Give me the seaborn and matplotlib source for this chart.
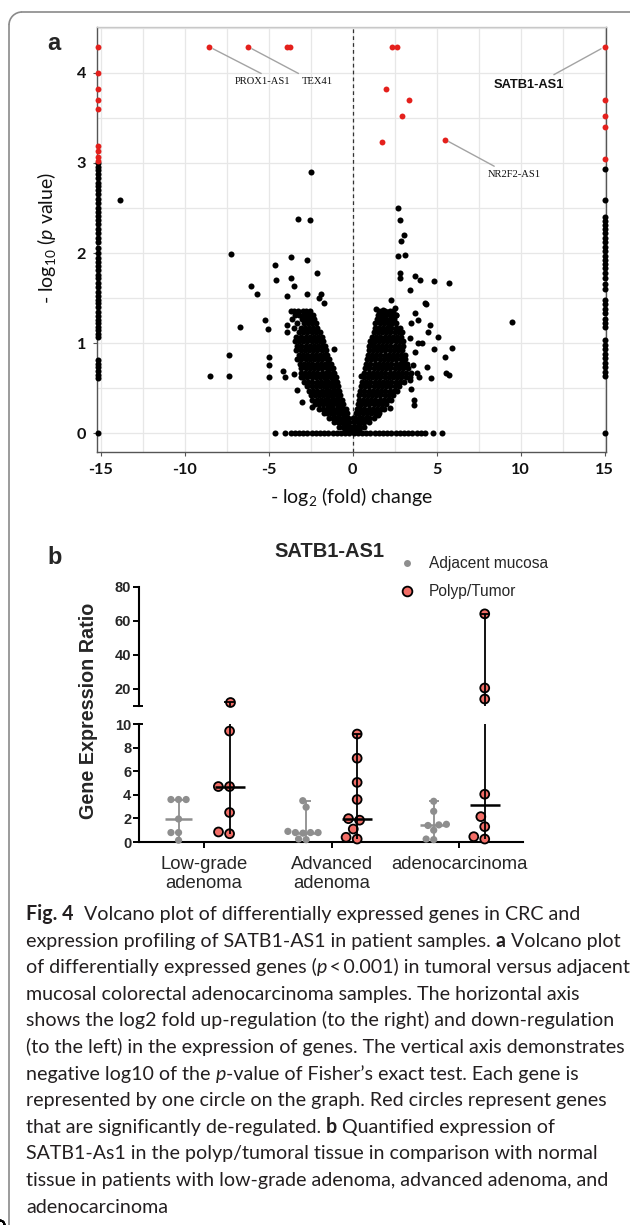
import numpy as np
import pandas as pd
import matplotlib
matplotlib.use("Agg")
import matplotlib.pyplot as plt
import seaborn as sns
from matplotlib import font_manager
from matplotlib.font_manager import FontProperties
from matplotlib.patches import Arc
from matplotlib.lines import Line2D
from matplotlib.ticker import MultipleLocator

# ======================= DATA : panel a (volcano) =======================
# significant (red) genes
sig_left_edge_nlp = [4.29, 4.00, 3.82, 3.70, 3.60, 3.19, 3.13, 3.07, 3.02]   # lfc capped at -15
sig_right_edge_nlp = [4.29, 3.70, 3.52, 3.40, 3.04]                            # lfc capped at +15
sig_mid_lfc = [-8.54, -6.22, -3.88, -3.71, 2.34, 2.65, 1.98, 3.34, 2.93, 1.74, 5.49]
sig_mid_nlp = [4.29, 4.29, 4.29, 4.29, 4.29, 4.29, 3.82, 3.70, 3.52, 3.23, 3.26]
LEFT_CAP, RIGHT_CAP = -15.15, 15.0

# labelled genes
label_genes = ["PROX1-AS1", "TEX41", "SATB1-AS1", "NR2F2-AS1"]
label_lfc = [-8.54, -6.22, 15.0, 5.49]
label_nlp = [4.29, 4.29, 4.29, 3.26]

# non-significant (black) genes
edge_left_nlp = [3.0, 2.96, 2.92, 2.88, 2.83, 2.78, 2.74, 2.7, 2.65, 2.6, 2.55, 2.5, 2.45,
                 2.41, 2.37, 2.32, 2.27, 2.22, 2.17, 2.12, 2.06, 2.0, 1.95, 1.9, 1.86, 1.81,
                 1.76, 1.72, 1.67, 1.62, 1.57, 1.52, 1.48, 1.44, 1.4, 1.35, 1.3, 1.26, 1.22,
                 1.18, 1.14, 1.1, 1.07, 0.81, 0.77, 0.73, 0.69, 0.65, 0.61, 0.0]
edge_right_nlp = [2.93, 2.59, 2.40, 2.35, 2.31, 2.27, 2.22, 2.17, 2.12, 2.07, 2.02, 1.97,
                  1.92, 1.88, 1.83, 1.78, 1.72, 1.66, 1.6, 1.48, 1.43, 1.38, 1.33, 1.27,
                  1.22, 1.18, 1.03, 0.98, 0.93, 0.88, 0.83, 0.78, 0.73, 0.68, 0.63, 0.0]
scatter_lfc = [-13.85, -2.49, -3.28, -2.57, -7.26, -3.69, -2.74, -4.64, -2.1, -4.58, -3.65,
               -3.49, -6.07, -5.67, -3.89, -2.74, -1.87, -2.0, -1.73, -5.24, -5.04, -6.71,
               -3.92, -3.88, -7.35, -4.96, -5.0, -4.96, -8.5, -7.38, -4.17, -4.03, -3.5,
               -3.1, -3.3, -3.0, -2.4, -1.11,
               2.7, 2.82, 3.05, 2.9, 2.7, 3.1, 2.8, 2.8, 3.69, 4.03, 4.82, 5.73, 3.39, 2.3,
               4.29, 4.38, 1.41, 1.8, 2.1, 2.5, 2.56, 3.73, 3.89, 3.49, 4.62, 4.48, 5.08,
               1.45, 2.2, 1.09, 3.4, 3.9, 4.1, 4.82, 5.89, 5.48, 3.69, 3.0, 3.0, 3.6, 4.4,
               5.58, 5.73, 3.95, 4.68, 3.39, 3.49, 3.63, 3.63, 0.48, 1.5, 2.2, 9.51]
scatter_nlp = [2.59, 2.90, 2.38, 2.37, 1.99, 1.96, 1.92, 1.87, 1.78, 1.70, 1.72,
               1.63, 1.63, 1.55, 1.52, 1.54, 1.55, 1.50, 1.45, 1.26, 1.16, 1.18,
               1.20, 1.12, 0.87, 0.84, 0.76, 0.62, 0.63, 0.63, 0.69, 0.62, 0.66,
               0.62, 0.48, 0.35, 0.29, 0.93,
               2.50, 2.37, 2.20, 2.13, 1.97, 1.98, 1.78, 1.72, 1.74, 1.70, 1.69, 1.67, 1.59, 1.48,
               1.44, 1.43, 1.38, 1.37, 1.34, 1.39, 1.31, 1.33, 1.26, 1.22, 1.20, 1.12, 1.07,
               1.16, 1.18, 1.00, 1.06, 1.00, 1.00, 0.93, 0.94, 0.84, 0.90, 0.85, 0.80, 0.76, 0.73,
               0.67, 0.64, 0.62, 0.61, 0.59, 0.49, 0.37, 0.31, 0.63, 0.20, 0.28, 1.23]
left_arm_rows = {
    1.36: [-3.7, -3.5, -3.25, -2.95, -2.75, -2.55],
    1.31: [-3.45, -3.2, -2.9, -2.6, -2.35],
    1.27: [-3.6, -3.0, -2.75, -2.5, -2.3],
    1.22: [-3.3, -2.9, -2.65, -2.4, -2.2],
    1.17: [-3.5, -3.1, -2.85, -2.6, -2.35, -2.1],
    1.12: [-3.2, -2.95, -2.7, -2.45, -2.2, -1.95],
    1.07: [-3.4, -3.1, -2.8, -2.55, -2.3, -2.05, -1.85],
    1.02: [-3.45, -3.2, -2.95, -2.7, -2.45, -2.2, -1.95, -1.75],
    0.97: [-3.3, -3.05, -2.8, -2.55, -2.3, -2.05, -1.8, -1.65],
    0.92: [-3.35, -3.1, -2.85, -2.6, -2.35, -2.1, -1.85, -1.6],
    0.87: [-3.2, -2.95, -2.7, -2.45, -2.2, -1.95, -1.7, -1.5],
    0.82: [-3.3, -3.05, -2.8, -2.55, -2.3, -2.05, -1.8, -1.55, -1.4],
    0.77: [-3.15, -2.9, -2.65, -2.4, -2.15, -1.9, -1.65, -1.45, -1.3],
    0.72: [-3.05, -2.8, -2.55, -2.3, -2.05, -1.8, -1.55, -1.35, -1.2],
    0.67: [-3.1, -2.85, -2.6, -2.35, -2.1, -1.85, -1.6, -1.4, -1.2, -1.1],
    0.62: [-2.95, -2.7, -2.45, -2.2, -1.95, -1.7, -1.5, -1.3, -1.1, -1.0],
    0.57: [-2.9, -2.65, -2.4, -2.15, -1.9, -1.65, -1.45, -1.25, -1.05, -0.95],
    0.52: [-2.7, -2.45, -2.2, -1.95, -1.7, -1.5, -1.3, -1.1, -0.9],
    0.47: [-2.6, -2.35, -2.1, -1.85, -1.6, -1.4, -1.2, -1.0, -0.8],
    0.42: [-2.5, -2.25, -2.0, -1.75, -1.55, -1.35, -1.15, -0.95, -0.75],
    0.37: [-2.4, -2.15, -1.9, -1.65, -1.45, -1.25, -1.05, -0.85, -0.65],
    0.32: [-2.25, -2.0, -1.75, -1.55, -1.35, -1.15, -0.95, -0.75, -0.55],
    0.27: [-2.0, -1.75, -1.55, -1.35, -1.15, -0.95, -0.75, -0.55, -0.4],
    0.22: [-1.7, -1.5, -1.3, -1.1, -0.9, -0.7, -0.5, -0.35],
    0.17: [-1.4, -1.2, -1.0, -0.8, -0.6, -0.45, -0.3],
    0.12: [-1.1, -0.9, -0.7, -0.5, -0.35, -0.2],
    0.07: [-0.8, -0.6, -0.4, -0.25, -0.1],
    0.03: [-0.45, -0.25, -0.1],
}
right_arm_rows = {
    1.36: [1.55, 1.9, 2.2, 2.4],
    1.31: [1.5, 1.75, 2.0, 2.3, 2.55],
    1.27: [1.45, 1.7, 1.95, 2.2, 2.45],
    1.22: [1.35, 1.6, 1.85, 2.1, 2.35, 2.6],
    1.17: [1.3, 1.55, 1.8, 2.05, 2.3, 2.55, 2.8],
    1.12: [1.25, 1.5, 1.75, 2.0, 2.25, 2.5, 2.75, 2.95],
    1.07: [1.15, 1.4, 1.65, 1.9, 2.15, 2.4, 2.65, 2.9],
    1.02: [1.05, 1.3, 1.55, 1.8, 2.05, 2.3, 2.55, 2.8, 3.0],
    0.97: [1.0, 1.25, 1.5, 1.75, 2.0, 2.25, 2.5, 2.75, 3.0],
    0.92: [0.95, 1.2, 1.45, 1.7, 1.95, 2.2, 2.45, 2.7, 2.95],
    0.87: [0.9, 1.15, 1.4, 1.65, 1.9, 2.15, 2.4, 2.65, 2.9, 3.1],
    0.82: [0.85, 1.1, 1.35, 1.6, 1.85, 2.1, 2.35, 2.6, 2.85, 3.1],
    0.77: [0.8, 1.05, 1.3, 1.55, 1.8, 2.05, 2.3, 2.55, 2.8, 3.05, 3.25],
    0.72: [0.75, 1.0, 1.25, 1.5, 1.75, 2.0, 2.25, 2.5, 2.75, 3.0, 3.3],
    0.67: [0.7, 0.95, 1.2, 1.45, 1.7, 1.95, 2.2, 2.45, 2.7, 2.95, 3.2, 3.5, 3.8],
    0.62: [0.65, 0.9, 1.15, 1.4, 1.65, 1.9, 2.15, 2.4, 2.65, 2.9, 3.15, 3.4],
    0.57: [0.55, 0.8, 1.05, 1.3, 1.55, 1.8, 2.05, 2.3, 2.55, 2.8, 3.05],
    0.52: [0.5, 0.75, 1.0, 1.25, 1.5, 1.75, 2.0, 2.25, 2.5, 2.75],
    0.47: [0.45, 0.7, 0.95, 1.2, 1.45, 1.7, 1.95, 2.2, 2.45, 2.65],
    0.42: [0.4, 0.65, 0.9, 1.15, 1.4, 1.65, 1.9, 2.15, 2.4],
    0.37: [0.35, 0.6, 0.85, 1.1, 1.35, 1.6, 1.85, 2.1, 2.3],
    0.32: [0.3, 0.5, 0.75, 1.0, 1.25, 1.5, 1.75, 2.0],
    0.27: [0.25, 0.45, 0.7, 0.95, 1.2, 1.45, 1.7, 1.85],
    0.22: [0.2, 0.4, 0.6, 0.85, 1.1, 1.35, 1.55],
    0.17: [0.0, 0.15, 0.35, 0.55, 0.8, 1.0, 1.25],
    0.12: [0.1, 0.3, 0.5, 0.7, 0.95],
    0.07: [0.05, 0.25, 0.45, 0.65],
    0.03: [0.0, 0.15, 0.35],
}
zero_row_lfc = [-4.64, -4.0, -3.7, -3.45, -3.2, -2.95, -2.7, -2.45, -2.2, -1.95, -1.7,
                -1.45, -1.2, -0.95, -0.7, -0.45, -0.2, 0.05, 0.3, 0.55, 0.8, 1.05, 1.3,
                1.55, 1.8, 2.05, 2.3, 2.55, 2.8, 3.05, 3.3, 3.55, 3.8, 4.05, 4.3, 4.8, 5.3]

# ======================= DATA : panel b =======================
groups = ["Low-grade\nadenoma", "Advanced\nadenoma", "adenocarcinoma"]
tissues = ["Adjacent mucosa", "Polyp/Tumor"]
adjacent_low = [3.6, 3.6, 3.6, 1.95, 0.8, 0.8, 0.15]
polyp_low = [12.3, 9.4, 4.7, 4.7, 2.5, 0.7, 0.85]
adjacent_adv = [3.5, 2.95, 0.9, 0.8, 0.8, 0.8, 0.75, 0.25, 0.2]
polyp_adv = [9.15, 7.1, 5.05, 3.6, 1.98, 1.85, 1.1, 0.25, 0.4]
adjacent_ac = [3.45, 2.6, 1.5, 1.45, 1.4, 1.0, 0.25, 0.2]
polyp_ac = [64.2, 20.6, 14.1, 4.05, 2.15, 1.3, 0.25, 0.45]
break_low, break_high = 10, 80

# ======================= fonts / style =======================
sns.set_theme(style="white")
avail = {f.name for f in font_manager.fontManager.ttflist}
def pick(*names):
    for n in names:
        if n in avail:
            return n
    return "DejaVu Sans"
SANS = pick("Liberation Sans", "Arimo", "DejaVu Sans")
LATO = pick("Lato", "Open Sans", "DejaVu Sans")
SERIF = pick("Liberation Serif", "DejaVu Serif")
CAP = pick("Lato", "Open Sans", "Noto Sans")
plt.rcParams["font.family"] = [SANS, "DejaVu Sans"]
plt.rcParams["axes.unicode_minus"] = False
plt.rcParams["mathtext.fontset"] = "custom"
plt.rcParams["mathtext.rm"] = LATO
plt.rcParams["mathtext.it"] = LATO + ":italic"
plt.rcParams["mathtext.bf"] = LATO + ":bold"

W, H = 630, 1225
fig = plt.figure(figsize=(W / 100, H / 100), dpi=100)
fig.patch.set_facecolor("white")

def frac(x0, y0, x1, y1):
    return [x0 / W, 1 - y1 / H, (x1 - x0) / W, (y1 - y0) / H]

# outer frame: left side, rounded top-left corner, top side (rest runs off the canvas)
FR_X, FR_Y, FR_R = 9, 12, 13
frame_kw = dict(color="#8a8a8a", lw=1.2, transform=fig.transFigure)
fig.add_artist(Line2D([FR_X / W, FR_X / W], [1 - (FR_Y + FR_R) / H, -0.01], **frame_kw))
fig.add_artist(Line2D([(FR_X + FR_R) / W, 1.01], [1 - FR_Y / H, 1 - FR_Y / H], **frame_kw))
fig.add_artist(Arc(((FR_X + FR_R) / W, 1 - (FR_Y + FR_R) / H), 2 * FR_R / W, 2 * FR_R / H,
                   theta1=90, theta2=180, ec="#8a8a8a", lw=1.2, transform=fig.transFigure))

# ======================= panel a =======================
ax = fig.add_axes(frac(97, 27, 606, 452))
blk_lfc, blk_nlp = [], []
for y, xs in list(left_arm_rows.items()) + list(right_arm_rows.items()):
    blk_lfc += xs
    blk_nlp += [y] * len(xs)
blk_lfc += zero_row_lfc + scatter_lfc + [LEFT_CAP] * len(edge_left_nlp) + [RIGHT_CAP] * len(edge_right_nlp)
blk_nlp += [0.0] * len(zero_row_lfc) + scatter_nlp + edge_left_nlp + edge_right_nlp
df_blk = pd.DataFrame({"lfc": blk_lfc, "nlp": blk_nlp})
df_sig = pd.DataFrame({
    "lfc": [LEFT_CAP] * len(sig_left_edge_nlp) + [RIGHT_CAP] * len(sig_right_edge_nlp) + sig_mid_lfc,
    "nlp": sig_left_edge_nlp + sig_right_edge_nlp + sig_mid_nlp})

sns.scatterplot(data=df_blk, x="lfc", y="nlp", color="black", s=19, linewidth=0, ax=ax,
                legend=False, zorder=3)
sns.scatterplot(data=df_sig, x="lfc", y="nlp", color="#e4201c", s=18, linewidth=0, ax=ax,
                legend=False, zorder=3)
for c in ax.collections:
    c.set_clip_on(False)

ax.set_xlim(-15.22, 15.08)
ax.set_ylim(-0.21, 4.51)
ax.set_xticks([-15, -10, -5, 0, 5, 10, 15])
ax.set_yticks([0, 1, 2, 3, 4])
ax.xaxis.set_minor_locator(MultipleLocator(2.5))
ax.yaxis.set_minor_locator(MultipleLocator(0.5))
ax.grid(which="both", color="#e7e7e7", lw=0.9)
ax.set_axisbelow(True)
ax.tick_params(which="minor", length=0)
ax.tick_params(axis="x", which="major", length=3, width=0.8, color="#555555", pad=5,
               labelsize=11.7, bottom=True)
ax.tick_params(axis="y", which="major", length=3, width=0.8, color="#555555", pad=5,
               labelsize=11.7, left=True)
for lbl in ax.get_xticklabels() + ax.get_yticklabels():
    lbl.set_fontfamily(LATO)
    lbl.set_fontweight("bold")
    lbl.set_color("#111111")
for side in ["left", "bottom", "right"]:
    ax.spines[side].set_color("#555555")
    ax.spines[side].set_linewidth(1.0)
ax.spines["top"].set_color("#c8c8c8")
ax.spines["top"].set_linewidth(1.0)
ax.axvline(0, color="#333333", ls=(0, (3, 2.5)), lw=0.9, zorder=2)

ax.set_xlabel("- log$_2$ (fold) change", fontfamily=LATO, fontsize=14, color="#111111")
ax.xaxis.set_label_coords(0.5, -(497 - 452) / 425)
ax.xaxis.label.set_va("center")
ax.set_ylabel("- log$_{10}$ ($p$ value)", fontfamily=LATO, fontsize=14, color="#111111")
ax.yaxis.set_label_coords((47 - 97) / 509, (452 - 238) / 425)
ax.yaxis.label.set_va("center")

label_layout = {
    "PROX1-AS1": ((-5.39, 3.90), (0.62, 1.0), dict(fontfamily=SERIF, fontsize=7.6)),
    "TEX41": ((-2.08, 3.90), (0.12, 1.0), dict(fontfamily=SERIF, fontsize=7.6)),
    "SATB1-AS1": ((10.46, 3.87), (0.76, 1.0), dict(fontfamily=SANS, fontsize=9.3, fontweight="bold")),
    "NR2F2-AS1": ((9.65, 2.87), (0.25, 1.0), dict(fontfamily=SERIF, fontsize=7.6)),
}
for name, lx, ly in zip(label_genes, label_lfc, label_nlp):
    (tx, ty), rp, kw = label_layout[name]
    ax.annotate(name, xy=(lx, ly), xytext=(tx, ty), ha="center", va="center", color="#111111",
                annotation_clip=False,
                arrowprops=dict(arrowstyle="-", color="#a3a3a3", lw=1.0, shrinkA=1, shrinkB=3,
                                relpos=rp), **kw)

fig.text(54 / W, 1 - 44 / H, "a", fontsize=17, fontweight="bold", ha="center", va="center",
         family=SANS)

# ======================= panel b =======================
rows = []
for g, a, p in zip(groups, [adjacent_low, adjacent_adv, adjacent_ac],
                   [polyp_low, polyp_adv, polyp_ac]):
    rows += [(g, tissues[0], v) for v in a]
    rows += [(g, tissues[1], v) for v in p]
df_b = pd.DataFrame(rows, columns=["group", "tissue", "ratio"])

RED = "#f26d66"
GREY = "#8e8e8e"
pal = {tissues[0]: GREY, tissues[1]: RED}
styles = {tissues[0]: dict(size=5.2, linewidth=0),
          tissues[1]: dict(size=6.4, linewidth=1.3, edgecolor="black")}

ax_t = fig.add_axes(frac(139, 587, 523, 706))
ax_b = fig.add_axes(frac(139, 724, 523, 842))

def draw_swarm(a, sub):
    for t in tissues:
        d = sub[sub.tissue == t]
        if d.empty:
            continue
        sns.swarmplot(data=d, x="group", y="ratio", hue="tissue", order=groups,
                      hue_order=tissues, palette=pal, dodge=True, ax=a, legend=False,
                      **styles[t])
    for c in a.collections:
        c.set_clip_on(False)

draw_swarm(ax_b, df_b[df_b.ratio <= break_low])
draw_swarm(ax_t, df_b[df_b.ratio > break_low])

offsets = {tissues[0]: -0.2, tissues[1]: 0.2}
line_col = {tissues[0]: GREY, tissues[1]: "black"}
med_hw = {tissues[0]: 0.105, tissues[1]: 0.118}
for a in (ax_t, ax_b):
    for i, g in enumerate(groups):
        for t in tissues:
            v = df_b[(df_b.group == g) & (df_b.tissue == t)].ratio
            xc = i + offsets[t]
            a.vlines(xc, v.min(), v.max(), color=line_col[t], lw=1.3, zorder=6)
            a.hlines(v.max(), xc - 0.04, xc + 0.04, color=line_col[t], lw=1.3, zorder=6)
            a.hlines(v.median(), xc - med_hw[t], xc + med_hw[t], color=line_col[t],
                     lw=1.8, zorder=7)

for a in (ax_t, ax_b):
    a.set_xlim(-0.51, 2.5)
    a.set_xlabel("")
    a.set_ylabel("")
    a.set_facecolor("none")
    for s in ["top", "right"]:
        a.spines[s].set_visible(False)
    a.spines["left"].set_linewidth(1.5)
    a.spines["left"].set_color("black")
    a.tick_params(axis="y", length=4, width=1.4, color="black", pad=1.5, labelsize=10.5,
                  left=True)

ax_t.set_ylim(break_low, break_high)
ax_t.set_yticks([10, 20, 40, 60, 80])
ax_t.set_yticklabels(["", "20", "40", "60", "80"])
ax_t.spines["bottom"].set_visible(False)
ax_t.set_xticks([])

ax_b.set_ylim(0, break_low)
ax_b.set_yticks([0, 2, 4, 6, 8, 10])
ax_b.spines["bottom"].set_linewidth(1.5)
ax_b.spines["bottom"].set_color("black")
ax_b.set_xticks([0, 1, 2])
ax_b.set_xticklabels(groups, fontsize=13.3, fontfamily=SANS, linespacing=1.2)
ax_b.tick_params(axis="x", length=4, width=1.4, color="black", pad=6, bottom=True)
for a in (ax_t, ax_b):
    for lbl in a.get_yticklabels():
        lbl.set_fontweight("bold")
        lbl.set_fontfamily(SANS)
# break markers crossing the left spine
for a in (ax_t, ax_b):
    a.hlines(break_low, -0.51, -0.475, color="black", lw=1.4, clip_on=False)

handles = [Line2D([], [], marker="o", ls="", color=GREY, ms=5, mec="none"),
           Line2D([], [], marker="o", ls="", mfc=RED, mec="black", mew=1.3, ms=7)]
ax_t.legend(handles, tissues, loc="upper left", bbox_to_anchor=(399 / W, 1 - 556 / H),
            bbox_transform=fig.transFigure, frameon=False,
            handlelength=1.0, handletextpad=0.9, labelspacing=0.85, borderpad=0,
            borderaxespad=0, prop={"family": SANS, "size": 11.2})

fig.text(329 / W, 1 - 551 / H, "SATB1-AS1", fontsize=14.5, fontweight="bold", ha="center",
         va="center", family=SANS)
fig.text(55 / W, 1 - 557 / H, "b", fontsize=17, fontweight="bold", ha="center",
         va="center", family=SANS)
fig.text(88 / W, 1 - 711 / H, "Gene Expression Ratio", fontsize=14.2, fontweight="bold",
         rotation=90, ha="center", va="center", family=SANS)

# ======================= caption =======================
caption = [
    [("Fig. 4", "bold"), ("  Volcano plot of differentially expressed genes in CRC and", "normal")],
    [("expression profiling of SATB1-AS1 in patient samples. ", "normal"), ("a", "bold"),
     (" Volcano plot", "normal")],
    [("of differentially expressed genes (", "normal"), ("p", "italic"),
     ("\u2009<\u20090.001) in tumoral versus adjacent", "normal")],
    [("mucosal colorectal adenocarcinoma samples. The horizontal axis", "normal")],
    [("shows the log2 fold up-regulation (to the right) and down-regulation", "normal")],
    [("(to the left) in the expression of genes. The vertical axis demonstrates", "normal")],
    [("negative log10 of the ", "normal"), ("p", "italic"),
     ("-value of Fisher\u2019s exact test. Each gene is", "normal")],
    [("represented by one circle on the graph. Red circles represent genes", "normal")],
    [("that are significantly de-regulated. ", "normal"), ("b", "bold"),
     (" Quantified expression of", "normal")],
    [("SATB1-As1 in the polyp/tumoral tissue in comparison with normal", "normal")],
    [("tissue in patients with low-grade adenoma, advanced adenoma, and", "normal")],
    [("adenocarcinoma", "normal")],
]
renderer = fig.canvas.get_renderer()

def style_kw(style, fs):
    kw = dict(family=[CAP, "DejaVu Sans"], fontsize=fs, color="#231f20")
    if style == "bold":
        kw["fontweight"] = "bold"
    elif style == "italic":
        kw["fontstyle"] = "italic"
    return kw

def text_width(s, kw):
    fp = FontProperties(family=kw["family"], size=kw["fontsize"],
                        weight=kw.get("fontweight", "normal"),
                        style=kw.get("fontstyle", "normal"))
    w1 = renderer.get_text_width_height_descent("|" + s + "|", fp, ismath=False)[0]
    w2 = renderer.get_text_width_height_descent("||", fp, ismath=False)[0]
    return w1 - w2

ref_w = text_width(caption[4][0][0], style_kw("normal", 12))
cap_fs = 12 * 585 / ref_w
base0, step, x0 = 920, 26.6, 26
for li, line in enumerate(caption):
    x = x0
    yb = base0 + li * step
    for seg, st in line:
        kw = style_kw(st, cap_fs)
        fig.text(x / W, 1 - yb / H, seg, ha="left", va="baseline", **kw)
        x += text_width(seg, kw)

fig.savefig("out.png", dpi=100, facecolor="white")
